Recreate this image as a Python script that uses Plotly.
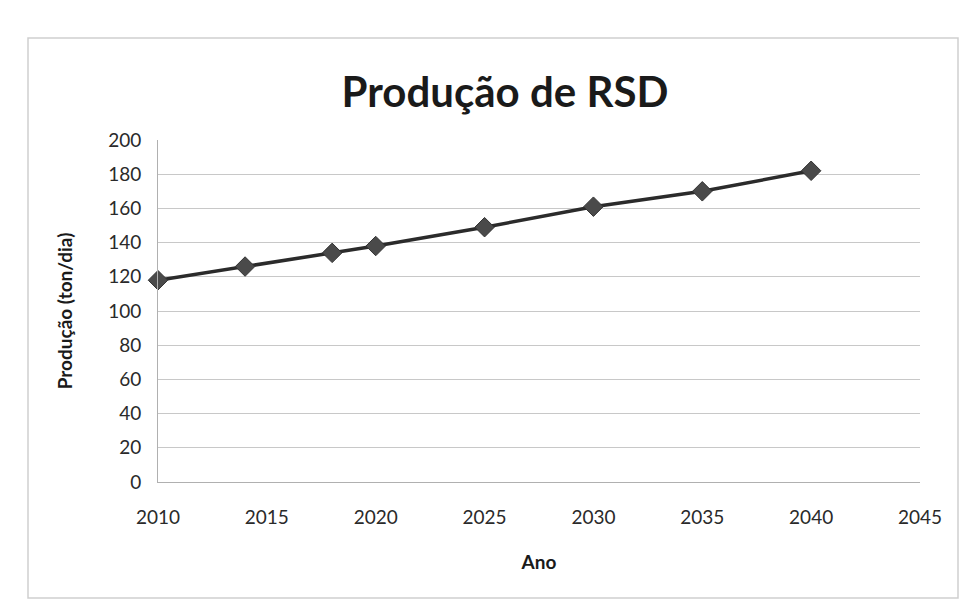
import plotly.graph_objects as go

anos = [2010, 2014, 2018, 2020, 2025, 2030, 2035, 2040]
producao = [118, 126, 134, 138, 149, 161, 170, 182]
x_ticks = [2010, 2015, 2020, 2025, 2030, 2035, 2040, 2045]
y_ticks = [0, 20, 40, 60, 80, 100, 120, 140, 160, 180, 200]

W, H = 969, 614
L, R, T, B = 150, 57, 132, 140

fig = go.Figure()
fig.add_trace(go.Scatter(
    x=anos, y=producao, mode="lines+markers",
    line=dict(color="#2b2b2b", width=3.5),
    marker=dict(symbol="diamond", size=15, color="#4a4a4a",
                line=dict(color="#333333", width=1)),
    showlegend=False, cliponaxis=False,
))

font_family = "Lato, 'Open Sans', sans-serif"
fig.update_layout(
    width=W, height=H,
    margin=dict(l=L, r=R, t=T, b=B),
    paper_bgcolor="white", plot_bgcolor="white",
    title=dict(text="<b>Produção de RSD</b>", x=497 / W, xanchor="center",
               y=1 - 84 / H, yanchor="middle",
               font=dict(family=font_family, size=42, color="#1a1a1a")),
    xaxis=dict(range=[2010, 2045], tickvals=x_ticks,
               ticktext=[str(v) for v in x_ticks],
               showgrid=False, zeroline=False,
               showline=True, linecolor="#b0b0b0", linewidth=1,
               ticks="", ticklabelstandoff=18,
               tickfont=dict(family=font_family, size=19, color="#2a2a2a"),
               title=dict(text="<b>Ano</b>", standoff=28,
                          font=dict(family=font_family, size=19, color="#1a1a1a"))),
    yaxis=dict(range=[0, 200], tickvals=y_ticks,
               showgrid=True, gridcolor="#c8c8c8", gridwidth=1,
               zeroline=False,
               showline=True, linecolor="#b0b0b0", linewidth=1,
               ticks="", ticklabelstandoff=12,
               tickfont=dict(family=font_family, size=19, color="#2a2a2a"),
               title=dict(text="<b>Produção (ton/dia)</b>", standoff=30,
                          font=dict(family=font_family, size=19, color="#1a1a1a"))),
)

# light border of the chart area (as on the printed page)
pw, ph = W - L - R, H - T - B
def px(x):
    return (x - L) / pw
def py(y):
    return (H - B - y) / ph
fig.add_shape(type="rect", xref="paper", yref="paper",
              x0=px(20), x1=px(950), y0=py(590), y1=py(30),
              line=dict(color="#cfcfcf", width=1.5), fillcolor="rgba(0,0,0,0)",
              layer="below")

fig.write_html("out.html")
